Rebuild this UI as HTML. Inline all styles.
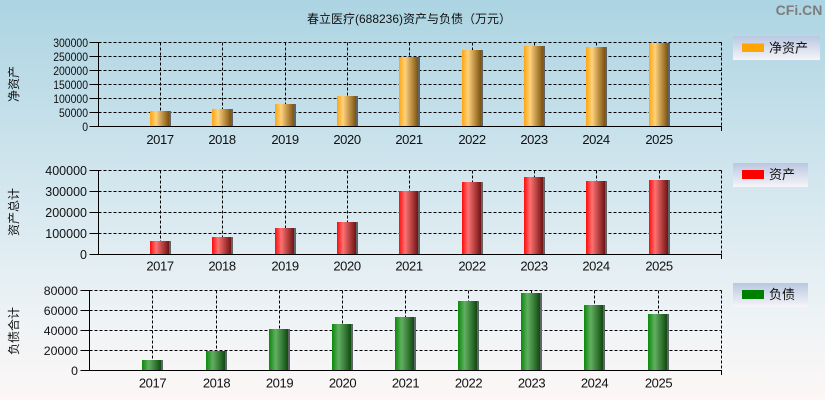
<!DOCTYPE html>
<html>
<head>
<meta charset="utf-8">
<style>
html,body{margin:0;padding:0;width:825px;height:400px;overflow:hidden;}
svg{display:block;}
text{font-family:"Liberation Sans","Noto Sans CJK SC",sans-serif;}
</style>
</head>
<body>
<svg width="825" height="400" viewBox="0 0 825 400" xmlns="http://www.w3.org/2000/svg">
<defs>
<linearGradient id="bg" x1="0" y1="0" x2="0" y2="1">
<stop offset="0" stop-color="#acd4e2"/>
<stop offset="0.45" stop-color="#d2e6ee"/>
<stop offset="0.8" stop-color="#eef3f6"/>
<stop offset="1" stop-color="#fdf7f6"/>
</linearGradient>
<linearGradient id="lg" x1="0" y1="0" x2="0" y2="1">
<stop offset="0" stop-color="#b9c7e0"/>
<stop offset="1" stop-color="#f6f5f8"/>
</linearGradient>
<linearGradient id="go" x1="0" y1="0" x2="1" y2="0">
<stop offset="0" stop-color="#ffa510"/>
<stop offset="0.32" stop-color="#ffd27c"/>
<stop offset="1" stop-color="#7c520e"/>
</linearGradient>
<linearGradient id="gr" x1="0" y1="0" x2="1" y2="0">
<stop offset="0" stop-color="#ff0a0a"/>
<stop offset="0.32" stop-color="#ff7272"/>
<stop offset="1" stop-color="#701212"/>
</linearGradient>
<linearGradient id="gg" x1="0" y1="0" x2="1" y2="0">
<stop offset="0" stop-color="#0a880a"/>
<stop offset="0.35" stop-color="#62b062"/>
<stop offset="1" stop-color="#104a10"/>
</linearGradient>
</defs>
<rect x="0" y="0" width="825" height="400" fill="url(#bg)"/>

<!-- Title & watermark -->
<text x="409" y="23" font-size="12" text-anchor="middle" fill="#111">春立医疗(688236)资产与负债（万元）</text>
<text x="799" y="15" font-size="14" font-weight="bold" text-anchor="middle" fill="#7d7d7d">CFi.CN</text>

<!-- ============ Panel 1 ============ -->
<g stroke="#000" stroke-width="1" fill="none">
<g stroke-dasharray="3,2">
<line x1="98.5" y1="112.5" x2="721.5" y2="112.5"/>
<line x1="98.5" y1="98.5" x2="721.5" y2="98.5"/>
<line x1="98.5" y1="84.5" x2="721.5" y2="84.5"/>
<line x1="98.5" y1="70.5" x2="721.5" y2="70.5"/>
<line x1="98.5" y1="56.5" x2="721.5" y2="56.5"/>
<line x1="98.5" y1="42.5" x2="721.5" y2="42.5"/>
<line x1="160.5" y1="42.5" x2="160.5" y2="126.5"/>
<line x1="222.5" y1="42.5" x2="222.5" y2="126.5"/>
<line x1="285.5" y1="42.5" x2="285.5" y2="126.5"/>
<line x1="347.5" y1="42.5" x2="347.5" y2="126.5"/>
<line x1="409.5" y1="42.5" x2="409.5" y2="126.5"/>
<line x1="472.5" y1="42.5" x2="472.5" y2="126.5"/>
<line x1="534.5" y1="42.5" x2="534.5" y2="126.5"/>
<line x1="596.5" y1="42.5" x2="596.5" y2="126.5"/>
<line x1="659.5" y1="42.5" x2="659.5" y2="126.5"/>
<line x1="721.5" y1="42.5" x2="721.5" y2="126.5"/>
</g>
</g>
<g>
<rect x="150" y="111" width="19" height="15" fill="url(#go)"/><rect x="169" y="111" width="2" height="15" fill="#5e6468"/>
<rect x="212" y="109" width="19" height="17" fill="url(#go)"/><rect x="231" y="109" width="2" height="17" fill="#5e6468"/>
<rect x="275" y="104" width="19" height="22" fill="url(#go)"/><rect x="294" y="104" width="2" height="22" fill="#5e6468"/>
<rect x="337" y="96" width="19" height="30" fill="url(#go)"/><rect x="356" y="96" width="2" height="30" fill="#5e6468"/>
<rect x="399" y="57" width="19" height="69" fill="url(#go)"/><rect x="418" y="57" width="2" height="69" fill="#5e6468"/>
<rect x="462" y="50" width="19" height="76" fill="url(#go)"/><rect x="481" y="50" width="2" height="76" fill="#5e6468"/>
<rect x="524" y="46" width="19" height="80" fill="url(#go)"/><rect x="543" y="46" width="2" height="80" fill="#5e6468"/>
<rect x="586" y="47" width="19" height="79" fill="url(#go)"/><rect x="605" y="47" width="2" height="79" fill="#5e6468"/>
<rect x="649" y="43" width="19" height="83" fill="url(#go)"/><rect x="668" y="43" width="2" height="83" fill="#5e6468"/>
</g>
<g stroke="#000" stroke-width="1" fill="none">
<line x1="98.5" y1="42" x2="98.5" y2="127"/>
<line x1="98" y1="126.5" x2="722" y2="126.5"/>
<line x1="721.5" y1="126.5" x2="721.5" y2="131"/>
<line x1="89.5" y1="126.5" x2="98.5" y2="126.5"/>
<line x1="89.5" y1="112.5" x2="98.5" y2="112.5"/>
<line x1="89.5" y1="98.5" x2="98.5" y2="98.5"/>
<line x1="89.5" y1="84.5" x2="98.5" y2="84.5"/>
<line x1="89.5" y1="70.5" x2="98.5" y2="70.5"/>
<line x1="89.5" y1="56.5" x2="98.5" y2="56.5"/>
<line x1="89.5" y1="42.5" x2="98.5" y2="42.5"/>
</g>
<g font-size="12" fill="#111" text-anchor="end">
<text transform="translate(88,131) scale(0.87,1)">0</text>
<text transform="translate(88,117) scale(0.87,1)">50000</text>
<text transform="translate(88,103) scale(0.87,1)">100000</text>
<text transform="translate(88,89) scale(0.87,1)">150000</text>
<text transform="translate(88,75) scale(0.87,1)">200000</text>
<text transform="translate(88,61) scale(0.87,1)">250000</text>
<text transform="translate(88,47) scale(0.87,1)">300000</text>
</g>
<g font-size="13" fill="#111" text-anchor="middle" letter-spacing="-0.4">
<text x="160" y="144">2017</text>
<text x="222" y="144">2018</text>
<text x="285" y="144">2019</text>
<text x="347" y="144">2020</text>
<text x="409" y="144">2021</text>
<text x="472" y="144">2022</text>
<text x="534" y="144">2023</text>
<text x="596" y="144">2024</text>
<text x="659" y="144">2025</text>
</g>
<text transform="translate(18,84) rotate(-90)" font-size="12" text-anchor="middle" fill="#111">净资产</text>
<rect x="733" y="36" width="87" height="24" fill="url(#lg)"/>
<rect x="742" y="43.5" width="22" height="8.5" fill="#ffa500"/>
<text x="769" y="52.5" font-size="13" fill="#111">净资产</text>

<!-- ============ Panel 2 ============ -->
<g stroke="#000" stroke-width="1" fill="none">
<g stroke-dasharray="3,2">
<line x1="98.5" y1="233.5" x2="721.5" y2="233.5"/>
<line x1="98.5" y1="212.5" x2="721.5" y2="212.5"/>
<line x1="98.5" y1="191.5" x2="721.5" y2="191.5"/>
<line x1="98.5" y1="170.5" x2="721.5" y2="170.5"/>
<line x1="160.5" y1="170.5" x2="160.5" y2="254.5"/>
<line x1="222.5" y1="170.5" x2="222.5" y2="254.5"/>
<line x1="285.5" y1="170.5" x2="285.5" y2="254.5"/>
<line x1="347.5" y1="170.5" x2="347.5" y2="254.5"/>
<line x1="409.5" y1="170.5" x2="409.5" y2="254.5"/>
<line x1="472.5" y1="170.5" x2="472.5" y2="254.5"/>
<line x1="534.5" y1="170.5" x2="534.5" y2="254.5"/>
<line x1="596.5" y1="170.5" x2="596.5" y2="254.5"/>
<line x1="659.5" y1="170.5" x2="659.5" y2="254.5"/>
<line x1="721.5" y1="170.5" x2="721.5" y2="254.5"/>
</g>
</g>
<g>
<rect x="150" y="241" width="19" height="13" fill="url(#gr)"/><rect x="169" y="241" width="2" height="13" fill="#5e6468"/>
<rect x="212" y="237" width="19" height="17" fill="url(#gr)"/><rect x="231" y="237" width="2" height="17" fill="#5e6468"/>
<rect x="275" y="228" width="19" height="26" fill="url(#gr)"/><rect x="294" y="228" width="2" height="26" fill="#5e6468"/>
<rect x="337" y="222" width="19" height="32" fill="url(#gr)"/><rect x="356" y="222" width="2" height="32" fill="#5e6468"/>
<rect x="399" y="191" width="19" height="63" fill="url(#gr)"/><rect x="418" y="191" width="2" height="63" fill="#5e6468"/>
<rect x="462" y="182" width="19" height="72" fill="url(#gr)"/><rect x="481" y="182" width="2" height="72" fill="#5e6468"/>
<rect x="524" y="177" width="19" height="77" fill="url(#gr)"/><rect x="543" y="177" width="2" height="77" fill="#5e6468"/>
<rect x="586" y="181" width="19" height="73" fill="url(#gr)"/><rect x="605" y="181" width="2" height="73" fill="#5e6468"/>
<rect x="649" y="180" width="19" height="74" fill="url(#gr)"/><rect x="668" y="180" width="2" height="74" fill="#5e6468"/>
</g>
<g stroke="#000" stroke-width="1" fill="none">
<line x1="98.5" y1="170" x2="98.5" y2="255"/>
<line x1="98" y1="254.5" x2="722" y2="254.5"/>
<line x1="721.5" y1="254.5" x2="721.5" y2="259"/>
<line x1="89.5" y1="254.5" x2="98.5" y2="254.5"/>
<line x1="89.5" y1="233.5" x2="98.5" y2="233.5"/>
<line x1="89.5" y1="212.5" x2="98.5" y2="212.5"/>
<line x1="89.5" y1="191.5" x2="98.5" y2="191.5"/>
<line x1="89.5" y1="170.5" x2="98.5" y2="170.5"/>
</g>
<g font-size="12.5" fill="#111" text-anchor="end">
<text x="87" y="259">0</text>
<text x="87" y="238">100000</text>
<text x="87" y="217">200000</text>
<text x="87" y="196">300000</text>
<text x="87" y="175">400000</text>
</g>
<g font-size="13" fill="#111" text-anchor="middle" letter-spacing="-0.4">
<text x="160" y="270.7">2017</text>
<text x="222" y="270.7">2018</text>
<text x="285" y="270.7">2019</text>
<text x="347" y="270.7">2020</text>
<text x="409" y="270.7">2021</text>
<text x="472" y="270.7">2022</text>
<text x="534" y="270.7">2023</text>
<text x="596" y="270.7">2024</text>
<text x="659" y="270.7">2025</text>
</g>
<text transform="translate(18,212) rotate(-90)" font-size="12" text-anchor="middle" fill="#111">资产总计</text>
<rect x="733" y="163" width="75" height="24" fill="url(#lg)"/>
<rect x="742" y="170" width="22" height="9" fill="#ff0000"/>
<text x="769" y="179" font-size="13" fill="#111">资产</text>

<!-- ============ Panel 3 ============ -->
<g stroke="#000" stroke-width="1" fill="none">
<g stroke-dasharray="3,2">
<line x1="89.5" y1="350.5" x2="721.5" y2="350.5"/>
<line x1="89.5" y1="330.5" x2="721.5" y2="330.5"/>
<line x1="89.5" y1="310.5" x2="721.5" y2="310.5"/>
<line x1="89.5" y1="290.5" x2="721.5" y2="290.5"/>
<line x1="152.5" y1="290.5" x2="152.5" y2="370.5"/>
<line x1="216.5" y1="290.5" x2="216.5" y2="370.5"/>
<line x1="279.5" y1="290.5" x2="279.5" y2="370.5"/>
<line x1="342.5" y1="290.5" x2="342.5" y2="370.5"/>
<line x1="405.5" y1="290.5" x2="405.5" y2="370.5"/>
<line x1="468.5" y1="290.5" x2="468.5" y2="370.5"/>
<line x1="531.5" y1="290.5" x2="531.5" y2="370.5"/>
<line x1="594.5" y1="290.5" x2="594.5" y2="370.5"/>
<line x1="658.5" y1="290.5" x2="658.5" y2="370.5"/>
<line x1="721.5" y1="290.5" x2="721.5" y2="370.5"/>
</g>
</g>
<g>
<rect x="142" y="360" width="19" height="10" fill="url(#gg)"/><rect x="161" y="360" width="2" height="10" fill="#5e6468"/>
<rect x="206" y="351" width="19" height="19" fill="url(#gg)"/><rect x="225" y="351" width="2" height="19" fill="#5e6468"/>
<rect x="269" y="329" width="19" height="41" fill="url(#gg)"/><rect x="288" y="329" width="2" height="41" fill="#5e6468"/>
<rect x="332" y="324" width="19" height="46" fill="url(#gg)"/><rect x="351" y="324" width="2" height="46" fill="#5e6468"/>
<rect x="395" y="317" width="19" height="53" fill="url(#gg)"/><rect x="414" y="317" width="2" height="53" fill="#5e6468"/>
<rect x="458" y="301" width="19" height="69" fill="url(#gg)"/><rect x="477" y="301" width="2" height="69" fill="#5e6468"/>
<rect x="521" y="293" width="19" height="77" fill="url(#gg)"/><rect x="540" y="293" width="2" height="77" fill="#5e6468"/>
<rect x="584" y="305" width="19" height="65" fill="url(#gg)"/><rect x="603" y="305" width="2" height="65" fill="#5e6468"/>
<rect x="648" y="314" width="19" height="56" fill="url(#gg)"/><rect x="667" y="314" width="2" height="56" fill="#5e6468"/>
</g>
<g stroke="#000" stroke-width="1" fill="none">
<line x1="89.5" y1="290" x2="89.5" y2="371"/>
<line x1="89" y1="370.5" x2="722" y2="370.5"/>
<line x1="721.5" y1="370.5" x2="721.5" y2="375"/>
<line x1="80.5" y1="370.5" x2="89.5" y2="370.5"/>
<line x1="80.5" y1="350.5" x2="89.5" y2="350.5"/>
<line x1="80.5" y1="330.5" x2="89.5" y2="330.5"/>
<line x1="80.5" y1="310.5" x2="89.5" y2="310.5"/>
<line x1="80.5" y1="290.5" x2="89.5" y2="290.5"/>
</g>
<g font-size="12.3" fill="#111" text-anchor="end">
<text x="78" y="375">0</text>
<text x="78" y="355">20000</text>
<text x="78" y="335">40000</text>
<text x="78" y="315">60000</text>
<text x="78" y="295">80000</text>
</g>
<g font-size="13" fill="#111" text-anchor="middle" letter-spacing="-0.4">
<text x="152.5" y="387.3">2017</text>
<text x="216.5" y="387.3">2018</text>
<text x="279.5" y="387.3">2019</text>
<text x="342.5" y="387.3">2020</text>
<text x="405.5" y="387.3">2021</text>
<text x="468.5" y="387.3">2022</text>
<text x="531.5" y="387.3">2023</text>
<text x="594.5" y="387.3">2024</text>
<text x="658.5" y="387.3">2025</text>
</g>
<text transform="translate(18,331) rotate(-90)" font-size="12" text-anchor="middle" fill="#111">负债合计</text>
<rect x="733" y="283" width="75" height="24" fill="url(#lg)"/>
<rect x="742" y="290" width="22" height="9" fill="#008000"/>
<text x="769" y="299" font-size="13" fill="#111">负债</text>
</svg>
</body>
</html>
